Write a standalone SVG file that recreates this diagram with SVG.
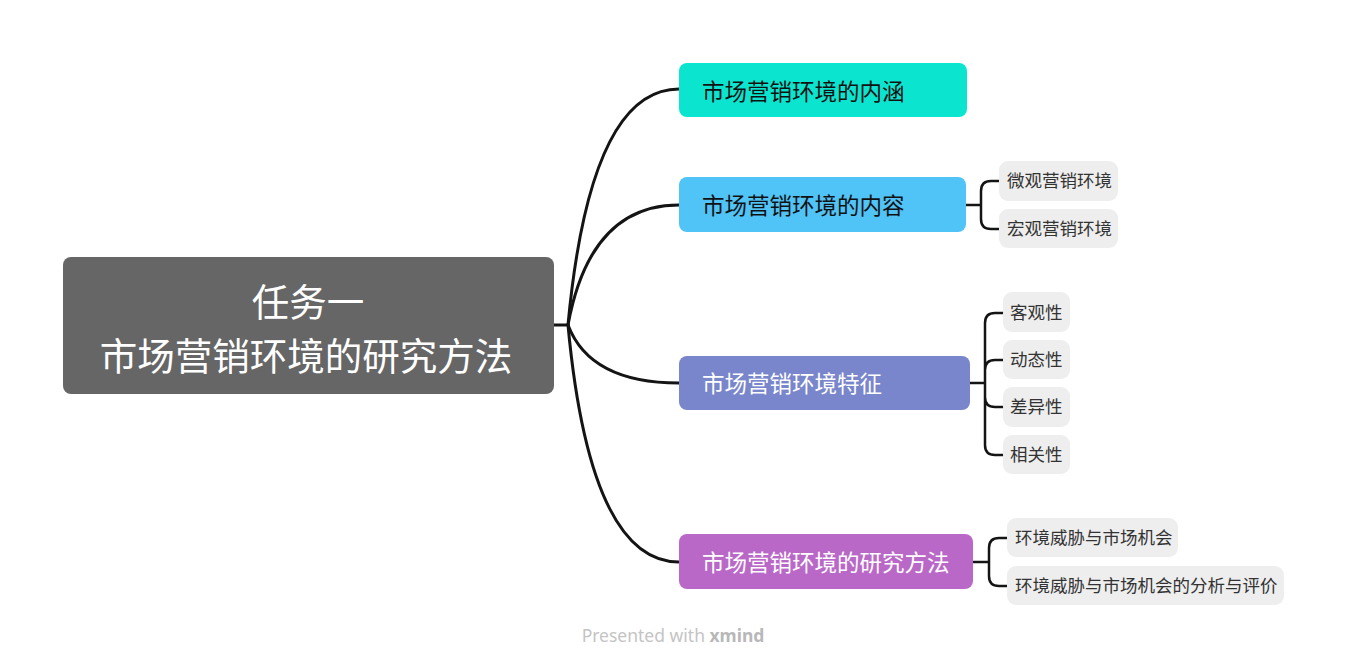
<svg xmlns="http://www.w3.org/2000/svg" width="1347" height="668" viewBox="0 0 1347 668">
<style>
.cjk{font-family:"Noto Sans CJK SC","Noto Sans",sans-serif}
.main{font-size:22.5px}
.sub{font-size:17.5px;fill:#333333}
.subbox{fill:#EEEEEE}
.conn{fill:none;stroke:#141414;stroke-width:3;stroke-linecap:round}
.conn2{fill:none;stroke:#141414;stroke-width:2.5}
</style>
<rect x="0" y="0" width="1347" height="668" fill="#FFFFFF"/>
<g id="connectors">
<path class="conn" d="M554,325 H568"/>
<path class="conn" d="M568,325 Q590,89 679,89"/>
<path class="conn" d="M568,325 Q590,205 679,205"/>
<path class="conn" d="M568,325 Q590,383 679,383"/>
<path class="conn" d="M568,325 Q590,562 679,562"/>
<path class="conn2" d="M966,205 H981 M999,181 H991 Q981,181 981,191 V219 Q981,229 991,229 H999"/>
<path class="conn2" d="M970,383 H985 M1003,313 H995 Q985,313 985,323 V445 Q985,455 995,455 H1003 M985,370 Q985,360 995,360 H1003 M985,397 Q985,407 995,407 H1003"/>
<path class="conn2" d="M973,562 H989 M1007,538 H999 Q989,538 989,548 V576 Q989,586 999,586 H1007"/>
</g>
<g id="central">
<rect x="63" y="257" width="491" height="137" rx="8" fill="#666666"/>
<text class="cjk" x="308" y="316" font-size="37.5" fill="#FFFFFF" text-anchor="middle">任务一</text>
<text class="cjk" x="306" y="370" font-size="37.5" fill="#FFFFFF" text-anchor="middle">市场营销环境的研究方法</text>
</g>
<g id="branch1">
<rect x="679" y="63" width="288" height="54" rx="8" fill="#0BE5CF"/>
<text class="cjk main" x="702" y="100" fill="#111111">市场营销环境的内涵</text>
</g>
<g id="branch2">
<rect x="679" y="177" width="287" height="55" rx="8" fill="#50C3F7"/>
<text class="cjk main" x="702" y="214" fill="#111111">市场营销环境的内容</text>
</g>
<g id="sub2a">
<rect class="subbox" x="999" y="161" width="119" height="40" rx="9"/>
<text class="cjk sub" x="1007" y="187">微观营销环境</text>
</g>
<g id="sub2b">
<rect class="subbox" x="999" y="209" width="119" height="39" rx="9"/>
<text class="cjk sub" x="1007" y="235">宏观营销环境</text>
</g>
<g id="branch3">
<rect x="679" y="356" width="291" height="54" rx="8" fill="#7986CB"/>
<text class="cjk main" x="702" y="392" fill="#FFFFFF">市场营销环境特征</text>
</g>
<g id="sub3a">
<rect class="subbox" x="1003" y="292" width="67" height="40" rx="9"/>
<text class="cjk sub" x="1010" y="319">客观性</text>
</g>
<g id="sub3b">
<rect class="subbox" x="1003" y="340" width="67" height="39" rx="9"/>
<text class="cjk sub" x="1010" y="366">动态性</text>
</g>
<g id="sub3c">
<rect class="subbox" x="1003" y="387" width="67" height="40" rx="9"/>
<text class="cjk sub" x="1010" y="413">差异性</text>
</g>
<g id="sub3d">
<rect class="subbox" x="1003" y="435" width="67" height="39" rx="9"/>
<text class="cjk sub" x="1010" y="461">相关性</text>
</g>
<g id="branch4">
<rect x="679" y="534" width="294" height="55" rx="8" fill="#BA68C8"/>
<text class="cjk main" x="702" y="571" fill="#FFFFFF">市场营销环境的研究方法</text>
</g>
<g id="sub4a">
<rect class="subbox" x="1007" y="518" width="171" height="39" rx="9"/>
<text class="cjk sub" x="1015" y="544">环境威胁与市场机会</text>
</g>
<g id="sub4b">
<rect class="subbox" x="1007" y="566" width="277" height="39" rx="9"/>
<text class="cjk sub" x="1015" y="592">环境威胁与市场机会的分析与评价</text>
</g>
<text x="673" y="642" font-family="Noto Sans, sans-serif" font-size="17.5" fill="#C4C4C4" text-anchor="middle">Presented with <tspan font-weight="bold" fill="#B8B8B8">xmind</tspan></text>
</svg>
